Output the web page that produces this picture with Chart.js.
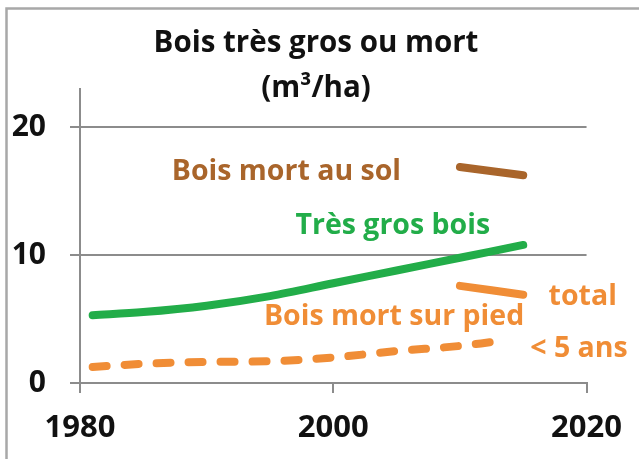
<!DOCTYPE html>
<html lang="fr">
<head>
<meta charset="UTF-8">
<title>Bois très gros ou mort</title>
<script src="https://cdn.jsdelivr.net/npm/chart.js@4"></script>
<style>
  html, body { margin: 0; padding: 0; background: #fff; }
  #wrap { width: 639px; height: 459px; position: relative; }
</style>
</head>
<body>
<div id="wrap"><canvas id="chart"></canvas></div>
<script>
// Data (m3/ha)
const yearsTgb = [1981, 1985, 1990, 1995, 2000, 2005, 2010, 2015];
const tresGrosBois = [5.3, 5.55, 6.05, 6.8, 7.8, 8.8, 9.8, 10.8];

const yearsRecent = [1981, 1985, 1990, 1995, 2000, 2005, 2010, 2012.5];
const boisMortRecent = [1.25, 1.5, 1.65, 1.7, 2.0, 2.5, 2.9, 3.2];

const yearsTotal = [2010, 2015];
const boisMortPied = [7.6, 6.9];
const boisMortSol = [16.9, 16.25];

const yTicks = [0, 10, 20];
const xTicks = [1980, 2000, 2020];

const titleLines = ['Bois très gros ou mort', '(m³/ha)'];

// text labels placed in data space: [text, year (centre), value (middle), colour]
const GREEN = '#22ad49';
const ORANGE = '#f08d36';
const BROWN = '#a9652b';
const labels = [
  ['Bois mort au sol', 1996.3, 16.5, BROWN],
  ['Très gros bois', 2004.7, 12.3, GREEN],
  ['Bois mort sur pied', 2004.8, 5.15, ORANGE],
  ['total', 2019.7, 6.7, ORANGE],
  ['< 5 ans', 2019.4, 2.65, ORANGE]
];

const FONT = '"Open Sans", Lato, sans-serif';

const pts = (xs, ys) => xs.map((x, i) => ({ x: x, y: ys[i] }));

const decorations = {
  id: 'decorations',
  beforeDraw(chart) {
    const ctx = chart.ctx;
    ctx.save();
    ctx.fillStyle = '#fff';
    ctx.fillRect(0, 0, chart.width, chart.height);
    ctx.strokeStyle = '#a8a8a8';
    ctx.lineWidth = 2.5;
    ctx.strokeRect(6.5, 8.5, chart.width + 20, chart.height + 20);
    ctx.restore();
  },
  afterDraw(chart) {
    const ctx = chart.ctx;
    const xs = chart.scales.x, ys = chart.scales.y;
    ctx.save();
    ctx.textAlign = 'center';
    ctx.textBaseline = 'middle';
    ctx.fillStyle = '#111';
    ctx.font = 'bold 29.5px ' + FONT;
    ctx.fillText(titleLines[0], 316, 44);
    ctx.fillText(titleLines[1], 316, 89);
    ctx.font = 'bold 28.5px ' + FONT;
    labels.forEach(([t, yr, v, c]) => {
      ctx.fillStyle = c;
      ctx.fillText(t, xs.getPixelForValue(yr), ys.getPixelForValue(v));
    });
    ctx.restore();
  }
};

const lineStyle = {
  fill: false,
  pointRadius: 0,
  borderWidth: 8,
  borderCapStyle: 'round',
  borderJoinStyle: 'round',
  cubicInterpolationMode: 'monotone'
};

new Chart(document.getElementById('chart'), {
  type: 'line',
  data: {
    datasets: [
      Object.assign({ label: 'Très gros bois', data: pts(yearsTgb, tresGrosBois), borderColor: GREEN }, lineStyle),
      Object.assign({ label: 'Bois mort sur pied < 5 ans', data: pts(yearsRecent, boisMortRecent), borderColor: ORANGE, borderDash: [14, 18] }, lineStyle),
      Object.assign({ label: 'Bois mort sur pied total', data: pts(yearsTotal, boisMortPied), borderColor: ORANGE }, lineStyle),
      Object.assign({ label: 'Bois mort au sol', data: pts(yearsTotal, boisMortSol), borderColor: BROWN }, lineStyle)
    ]
  },
  options: {
    responsive: true,
    maintainAspectRatio: false,
    animation: false,
    layout: { padding: { top: 89, right: 52, left: 0, bottom: 0 } },
    plugins: {
      legend: { display: false },
      title: { display: false },
      tooltip: { enabled: false }
    },
    scales: {
      x: {
        type: 'linear',
        min: 1980,
        max: 2020,
        afterBuildTicks: axis => { axis.ticks = xTicks.map(v => ({ value: v })); },
        afterFit: axis => { axis.height = 76; },
        grid: { drawOnChartArea: false, drawTicks: true, tickLength: 10, color: '#8c8c8c', lineWidth: 2 },
        border: { color: '#8c8c8c', width: 2 },
        ticks: { color: '#111', padding: 17, maxRotation: 0, font: { family: FONT, size: 31, weight: 'bold' }, callback: v => String(v) }
      },
      y: {
        min: 0,
        max: 23,
        afterBuildTicks: axis => { axis.ticks = yTicks.map(v => ({ value: v })); },
        afterFit: axis => { axis.width = 80; },
        grid: { drawOnChartArea: true, drawTicks: true, tickLength: 10, color: '#8c8c8c', lineWidth: 2 },
        border: { color: '#8c8c8c', width: 2 },
        ticks: { color: '#111', padding: 24, font: { family: FONT, size: 30, weight: 'bold' } }
      }
    }
  },
  plugins: [decorations]
});
</script>
</body>
</html>
